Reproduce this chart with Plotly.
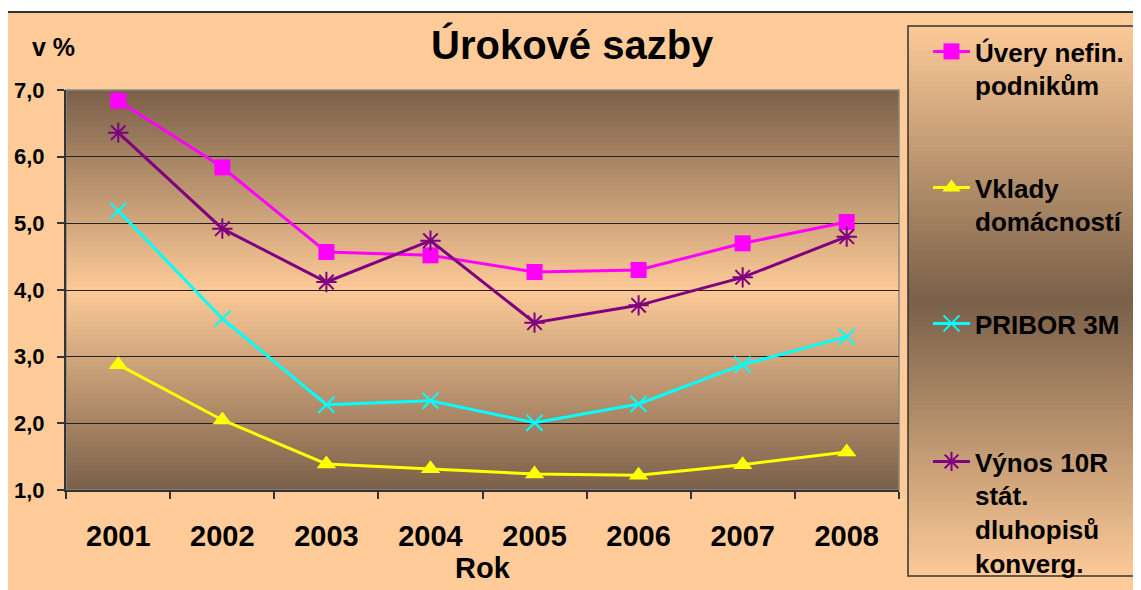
import plotly.graph_objects as go

years = ["2001", "2002", "2003", "2004", "2005", "2006", "2007", "2008"]
uvery = [6.84, 5.84, 4.57, 4.52, 4.27, 4.30, 4.70, 5.02]
vklady = [2.88, 2.05, 1.39, 1.32, 1.24, 1.22, 1.38, 1.57]
pribor = [5.19, 3.57, 2.28, 2.34, 2.01, 2.29, 2.88, 3.30]
vynos = [6.36, 4.92, 4.12, 4.74, 3.51, 3.77, 4.19, 4.80]

names = ["Úvery nefin.<br>podnikům", "Vklady<br>domácností", "PRIBOR 3M",
         "Výnos 10R<br>stát.<br>dluhopisů<br>konverg."]
y_ticks = [1, 2, 3, 4, 5, 6, 7]

# page body has an 8px margin; work in window pixels and convert
OFF = 8
WIN_W, WIN_H = 1141, 590
W, H = WIN_W - OFF, WIN_H - OFF
L, R, T, B = 66, 899, 90, 490  # plot area in window pixels


def px(x):
    return (x - L) / (R - L)


def py(y):
    return (B - y) / (B - T)


DARK = (122, 96, 73)
LIGHT = (253, 202, 151)
PEACH = "#FFCC99"


def mix(t):
    c = [round(DARK[i] + (LIGHT[i] - DARK[i]) * t) for i in range(3)]
    return "rgb(%d,%d,%d)" % tuple(c)


shapes = []
# outer frame
shapes.append(dict(type="rect", xref="paper", yref="paper", layer="below",
                   x0=px(7), x1=px(WIN_W + 10), y0=py(12), y1=py(WIN_H + 10),
                   fillcolor=PEACH, line=dict(color="#333333", width=2)))
# plot area gradient (dark edges, light centre)
n = 100
for i in range(n):
    y0 = T + (B - T) * i / n
    y1 = T + (B - T) * (i + 1) / n
    t = 1 - abs(((i + 0.5) / n) * 2 - 1)
    shapes.append(dict(type="rect", xref="paper", yref="paper", layer="below",
                       x0=0, x1=1, y0=py(y1), y1=py(y0),
                       fillcolor=mix(t), line=dict(width=0)))
# legend box gradient (light edges, dark centre)
LX0, LX1, LY0, LY1 = 908, 1135, 26, 576
m = 110
for i in range(m):
    y0 = LY0 + (LY1 - LY0) * i / m
    y1 = LY0 + (LY1 - LY0) * (i + 1) / m
    t = abs(((i + 0.5) / m) * 2 - 1)
    shapes.append(dict(type="rect", xref="paper", yref="paper", layer="below",
                       x0=px(LX0), x1=px(LX1), y0=py(y1), y1=py(y0),
                       fillcolor=mix(t), line=dict(width=0)))
shapes.append(dict(type="rect", xref="paper", yref="paper", layer="below",
                   x0=px(LX0), x1=px(LX1), y0=py(LY1), y1=py(LY0),
                   fillcolor="rgba(0,0,0,0)", line=dict(color="#333333", width=1.5)))
# plot area border (top/right grey)
shapes.append(dict(type="rect", xref="paper", yref="paper", layer="below",
                   x0=0, x1=1, y0=0, y1=1,
                   fillcolor="rgba(0,0,0,0)", line=dict(color="#888888", width=1.5)))

FONT = "Liberation Sans, Arial, sans-serif"

fig = go.Figure()
styles = [
    dict(color="#FF00FF", symbol="square", size=16, lw=0),
    dict(color="#FFFF00", symbol="triangle-up", size=17, lw=0),
    dict(color="#00FFFF", symbol="x-thin", size=16, lw=2),
    dict(color="#800080", symbol="asterisk", size=17, lw=2),
]
series = [uvery, vklady, pribor, vynos]
legends = ["legend", "legend2", "legend3", "legend4"]
for s, vals, nm, lg in zip(styles, series, names, legends):
    fig.add_trace(go.Scatter(
        x=years, y=vals, name=nm, mode="lines+markers", legend=lg,
        line=dict(color=s["color"], width=3),
        marker=dict(symbol=s["symbol"], size=s["size"], color=s["color"],
                    line=dict(width=s["lw"], color=s["color"])),
    ))

leg_y = [28, 164, 300, 438]
leg_common = dict(font=dict(family=FONT, size=26, color="black", weight="bold"),
                  bgcolor="rgba(0,0,0,0)", borderwidth=0, xanchor="left",
                  yanchor="top", valign="top", x=px(928), itemwidth=37)
layout_legs = {}
for lg, yy in zip(legends, leg_y):
    layout_legs[lg] = dict(leg_common, y=py(yy))

fig.update_layout(
    width=W, height=H,
    margin=dict(l=L - OFF, r=W - (R - OFF), t=T - OFF, b=H - (B - OFF), autoexpand=False),
    paper_bgcolor="white", plot_bgcolor="rgba(0,0,0,0)",
    separators=",.",
    showlegend=True,
    shapes=shapes,
    font=dict(family=FONT, color="black"),
    **layout_legs,
)
fig.update_xaxes(
    type="category", tickson="boundaries", ticks="outside", ticklen=7,
    tickcolor="#333333", tickwidth=1.5, showgrid=False,
    showline=True, linecolor="#333333", linewidth=2,
    tickfont=dict(family=FONT, size=29, color="black", weight="bold"), ticklabelstandoff=19,
)
fig.update_yaxes(
    range=[1, 7], tickvals=y_ticks, tickformat=".1f", ticks="outside", ticklen=7,
    tickcolor="#333333", tickwidth=1.5, showgrid=True, gridcolor="#222222", gridwidth=1,
    showline=True, linecolor="#333333", linewidth=2, zeroline=False,
    tickfont=dict(family=FONT, size=22, color="black", weight="bold"), ticklabelstandoff=8,
)
fig.add_annotation(text="<b>Úrokové sazby</b>", xref="paper", yref="paper",
                   x=px(572), y=py(45), xanchor="center", yanchor="middle",
                   showarrow=False, font=dict(family=FONT, size=40, color="black"))
fig.add_annotation(text="<b>v %</b>", xref="paper", yref="paper",
                   x=px(53), y=py(47), xanchor="center", yanchor="middle",
                   showarrow=False, font=dict(family=FONT, size=25, color="black"))
fig.add_annotation(text="<b>Rok</b>", xref="paper", yref="paper",
                   x=0.5, y=py(568), xanchor="center", yanchor="middle",
                   showarrow=False, font=dict(family=FONT, size=29, color="black"))

fig.write_html("out.html")
